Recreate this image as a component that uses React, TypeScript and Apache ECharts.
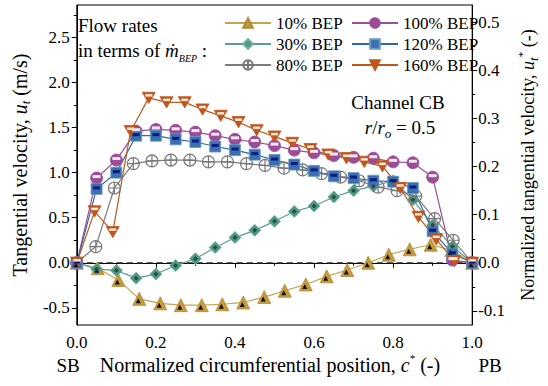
import React, { useEffect, useRef } from "react";
import * as echarts from "echarts";

// ---------- data ----------
const X_10 = [0, 0.053, 0.105, 0.158, 0.211, 0.263, 0.316, 0.368, 0.421, 0.474, 0.526, 0.579, 0.632, 0.684, 0.737, 0.789, 0.842, 0.895, 0.947, 1.0];
const U_10 = [0, -0.06, -0.19, -0.40, -0.45, -0.47, -0.47, -0.46, -0.44, -0.38, -0.31, -0.24, -0.15, -0.08, 0.0, 0.09, 0.15, 0.20, 0.14, 0];

const X_05 = [0, 0.05, 0.1, 0.15, 0.2, 0.25, 0.3, 0.35, 0.4, 0.45, 0.5, 0.55, 0.6, 0.65, 0.7, 0.75, 0.8, 0.85, 0.9, 0.95, 1.0];
const U_30 = [0, -0.07, -0.085, -0.17, -0.125, -0.03, 0.045, 0.17, 0.28, 0.36, 0.46, 0.57, 0.63, 0.73, 0.80, 0.85, 0.91, 0.70, 0.42, 0.18, 0];
const U_100 = [0, 0.94, 1.14, 1.46, 1.48, 1.47, 1.45, 1.41, 1.37, 1.34, 1.30, 1.25, 1.22, 1.19, 1.17, 1.16, 1.12, 1.11, 0.95, 0.03, 0];
const U_120 = [0, 0.82, 1.0, 1.41, 1.41, 1.37, 1.34, 1.29, 1.25, 1.20, 1.14, 1.09, 1.02, 0.96, 0.94, 0.91, 0.90, 0.83, 0.35, 0.10, 0];

const X_80 = [0, 0.048, 0.095, 0.143, 0.190, 0.238, 0.286, 0.333, 0.381, 0.429, 0.476, 0.524, 0.571, 0.619, 0.667, 0.714, 0.762, 0.810, 0.857, 0.905, 0.952, 1.0];
const U_80 = [0, 0.18, 0.83, 1.10, 1.13, 1.14, 1.14, 1.12, 1.12, 1.10, 1.08, 1.05, 1.03, 0.99, 0.95, 0.91, 0.84, 0.80, 0.74, 0.49, 0.25, 0];

const X_160 = [0, 0.045, 0.091, 0.136, 0.182, 0.227, 0.273, 0.318, 0.364, 0.409, 0.455, 0.5, 0.545, 0.591, 0.636, 0.682, 0.727, 0.773, 0.818, 0.864, 0.909, 0.955, 1.0];
const U_160 = [0, 0.57, 0.34, 1.46, 1.83, 1.78, 1.78, 1.70, 1.63, 1.56, 1.47, 1.40, 1.33, 1.26, 1.20, 1.16, 1.12, 1.07, 0.83, 0.51, 0.26, 0.02, 0];

const NAMES_COL1 = ["10% BEP", "30% BEP", "80% BEP"];
const NAMES_COL2 = ["100% BEP", "120% BEP", "160% BEP"];

const Y_LEFT_LABELS = [-0.5, 0, 0.5, 1.0, 1.5, 2.0, 2.5];
const Y_LEFT_MINOR = [-0.25, 0.25, 0.75, 1.25, 1.75, 2.25, 2.75];
const Y_RIGHT_LABELS = [-0.1, 0, 0.1, 0.2, 0.3, 0.4, 0.5];
const Y_RIGHT_MINOR = [-0.05, 0.05, 0.15, 0.25, 0.35, 0.45];

const U_REF_FACTOR = 0.1875; // u* per (m/s)
const Y_MIN = -0.69;
const Y_MAX = 2.86;

const FONT = "Liberation Serif";

const pair = (xs: number[], ys: number[]) => xs.map((x, i) => [x, ys[i]]);

const TRI_DOWN = "path://M0,0L10,0L5,8.7Z";
const CIRC_PLUS = "path://M10,0A10,10,0,1,1,-10,0A10,10,0,1,1,10,0ZM-10,0L10,0M0,-10L0,10";

export default function App() {
  const ref = useRef<HTMLDivElement>(null);
  useEffect(() => {
    if (!ref.current) return;
    const chart = echarts.init(ref.current, undefined, { renderer: "svg" });

    const baseLine = (name: string, data: number[][], color: string, symbol: string, size: number, itemStyle: any, z = 3, extra: any = {}) => ({
      type: "line",
      name,
      data,
      xAxisIndex: 0,
      yAxisIndex: 0,
      symbol,
      legendIcon: symbol,
      symbolSize: size,
      symbolKeepAspect: true,
      showSymbol: true,
      lineStyle: { color, width: 1.2 },
      itemStyle,
      z,
      ...extra,
    });

    const overlay = (name: string, data: number[][], symbol: string, size: any, color: string, offset: number[] = [0, 0], z = 4) => ({
      type: "line",
      name,
      data,
      symbol,
      symbolSize: size,
      symbolOffset: offset,
      showSymbol: true,
      lineStyle: { width: 0, opacity: 0 },
      itemStyle: { color, borderWidth: 0 },
      silent: true,
      z,
    });

    const d10 = pair(X_10, U_10);
    const d30 = pair(X_05, U_30);
    const d80 = pair(X_80, U_80);
    const d100 = pair(X_05, U_100);
    const d120 = pair(X_05, U_120);
    const d160 = pair(X_160, U_160);

    const labelStyle = { fontFamily: FONT, fontSize: 17, color: "#000" };
    const legendCommon = {
      orient: "vertical",
      top: 9,
      itemWidth: 46,
      itemHeight: 12,
      itemGap: 3,
      textStyle: { fontFamily: FONT, fontSize: 17, color: "#000", lineHeight: 18 },
      selectedMode: false,
    };

    chart.setOption({
      animation: false,
      backgroundColor: "#fff",
      textStyle: { fontFamily: FONT },
      grid: { left: 68, right: 57, top: 5, bottom: 61, show: true, borderColor: "#000", borderWidth: 1, backgroundColor: "transparent" },
      legend: [
        { ...legendCommon, left: 219, data: NAMES_COL1 },
        { ...legendCommon, left: 346, data: NAMES_COL2 },
      ],
      xAxis: [
        {
          type: "value",
          min: 0,
          max: 1,
          interval: 0.2,
          axisLine: { show: true, lineStyle: { color: "#000", width: 1 } },
          axisTick: { show: true, inside: false, length: 5, lineStyle: { color: "#000" } },
          minorTick: { show: true, splitNumber: 2, length: 3, lineStyle: { color: "#000" } },
          splitLine: { show: false },
          axisLabel: { ...labelStyle, margin: 9, showMinLabel: true, showMaxLabel: true, formatter: (v: number) => v.toFixed(1) },
        },
      ],
      yAxis: [
        {
          type: "value",
          position: "left",
          min: Y_MIN,
          max: Y_MAX,
          axisLine: { show: true, lineStyle: { color: "#000", width: 1 } },
          axisTick: { show: true, length: 5, customValues: Y_LEFT_LABELS, lineStyle: { color: "#000" } },
          splitLine: { show: false },
          axisLabel: { ...labelStyle, margin: 7, customValues: Y_LEFT_LABELS, formatter: (v: number) => v.toFixed(1) },
          name: "Tangential velocity, {i|u}{s|t} (m/s)",
          nameLocation: "middle",
          nameRotate: 90,
          nameGap: 40,
          nameTextStyle: {
            fontFamily: FONT, fontSize: 20, color: "#000", lineHeight: 24,
            rich: {
              i: { fontFamily: FONT, fontSize: 20, fontStyle: "italic", lineHeight: 24 },
              s: { fontFamily: FONT, fontSize: 13, fontStyle: "italic", lineHeight: 13, verticalAlign: "bottom" },
            },
          },
        },
        {
          type: "value",
          position: "right",
          min: Y_MIN * U_REF_FACTOR,
          max: Y_MAX * U_REF_FACTOR,
          axisLine: { show: true, lineStyle: { color: "#000", width: 1 } },
          axisTick: { show: true, length: 5, customValues: Y_RIGHT_LABELS, lineStyle: { color: "#000" } },
          splitLine: { show: false },
          axisLabel: { ...labelStyle, margin: 6, customValues: Y_RIGHT_LABELS, formatter: (v: number) => v.toFixed(1) },
          name: "Normalized tangential velocity, {i|u}{s|t}{p|*} (-)",
          nameLocation: "middle",
          nameRotate: 90,
          nameGap: 37,
          nameTextStyle: {
            fontFamily: FONT, fontSize: 18, color: "#000", lineHeight: 24,
            rich: {
              i: { fontFamily: FONT, fontSize: 18, fontStyle: "italic", lineHeight: 24 },
              s: { fontFamily: FONT, fontSize: 13, fontStyle: "italic", lineHeight: 13, verticalAlign: "bottom" },
              p: { fontFamily: FONT, fontSize: 11, lineHeight: 11, verticalAlign: "top" },
            },
          },
        },
        {
          type: "value",
          position: "left",
          min: Y_MIN,
          max: Y_MAX,
          axisLine: { show: false },
          axisTick: { show: true, length: 3, customValues: Y_LEFT_MINOR, lineStyle: { color: "#000" } },
          splitLine: { show: false },
          axisLabel: { show: false },
        },
        {
          type: "value",
          position: "right",
          min: Y_MIN * U_REF_FACTOR,
          max: Y_MAX * U_REF_FACTOR,
          axisLine: { show: false },
          axisTick: { show: true, length: 3, customValues: Y_RIGHT_MINOR, lineStyle: { color: "#000" } },
          splitLine: { show: false },
          axisLabel: { show: false },
        },
      ],
      series: [
        baseLine("10% BEP", d10, "#C9A24C", "triangle", 13, { color: "#C49A3C", borderColor: "#B08A34", borderWidth: 0.8 }, 3, {
          markLine: {
            silent: true,
            symbol: ["none", "none"],
            label: { show: false },
            lineStyle: { color: "#222", width: 1.5, type: [6, 4] },
            data: [{ yAxis: 0 }],
            z: 1,
          },
        }),
        overlay("_10in", d10, "triangle", 5, "#111", [-1, 2]),
        baseLine("30% BEP", d30, "#5C9E8E", "diamond", 12, { color: "#4E9985", borderColor: "#6CB09C", borderWidth: 0.8 }),
        overlay("_30in", d30, "diamond", 5, "#2A4E45"),
        baseLine("80% BEP", d80, "#7C7C7C", CIRC_PLUS, 12, { color: "rgba(255,255,255,0)", borderColor: "#777", borderWidth: 1.2 }),
        baseLine("100% BEP", d100, "#9B4F98", "circle", 12, { color: "#9A4C97", borderColor: "#9A4C97", borderWidth: 0.8 }),
        overlay("_100in", d100, "rect", [8, 3], "#F2E6F2", [0, -1.5]),
        baseLine("120% BEP", d120, "#2F68A8", "rect", 11, { color: "#3A70AD", borderColor: "#6B96C8", borderWidth: 0.8 }),
        overlay("_120in", d120, "rect", [7, 3], "#0A1C84", [0, -1]),
        baseLine("160% BEP", d160, "#C0571C", TRI_DOWN, 13, { color: "#C0561B", borderColor: "#C0561B", borderWidth: 0.8 }),
        overlay("_160in", d160, "rect", [7, 2.5], "#F8E8DD", [0, -2.5]),
      ],
      graphic: [
        { type: "text", x: 78, y: 25, style: { text: "Flow rates", fontFamily: FONT, fontSize: 19, fill: "#000", align: "left", verticalAlign: "middle" } },
        {
          type: "text", x: 78, y: 50,
          style: {
            text: "in terms of {i|ṁ}{s|BEP} :",
            fontFamily: FONT, fontSize: 19, fill: "#000", align: "left", verticalAlign: "middle", lineHeight: 26,
            rich: {
              i: { fontFamily: FONT, fontSize: 19, fontStyle: "italic", lineHeight: 26 },
              s: { fontFamily: FONT, fontSize: 10, fontStyle: "italic", lineHeight: 10, verticalAlign: "bottom" },
            },
          },
        },
        { type: "text", x: 398, y: 102, style: { text: "Channel CB", fontFamily: FONT, fontSize: 19, fill: "#000", align: "center", verticalAlign: "middle" } },
        {
          type: "text", x: 400, y: 127,
          style: {
            text: "{i|r}/{i|r}{s|o} = 0.5",
            fontFamily: FONT, fontSize: 19, fill: "#000", align: "center", verticalAlign: "middle", lineHeight: 26,
            rich: {
              i: { fontFamily: FONT, fontSize: 19, fontStyle: "italic", lineHeight: 26 },
              s: { fontFamily: FONT, fontSize: 13, fontStyle: "italic", lineHeight: 13, verticalAlign: "bottom" },
            },
          },
        },
        { type: "text", x: 68, y: 365, style: { text: "SB", fontFamily: FONT, fontSize: 19, fill: "#000", align: "center", verticalAlign: "middle" } },
        { type: "text", x: 490, y: 365, style: { text: "PB", fontFamily: FONT, fontSize: 19, fill: "#000", align: "center", verticalAlign: "middle" } },
        {
          type: "text", x: 270, y: 365,
          style: {
            text: "Normalized circumferential position, {i|c}{p|*} (-)",
            fontFamily: FONT, fontSize: 20, fill: "#000", align: "center", verticalAlign: "middle", lineHeight: 26,
            rich: {
              i: { fontFamily: FONT, fontSize: 20, fontStyle: "italic", lineHeight: 26 },
              p: { fontFamily: FONT, fontSize: 11, lineHeight: 11, verticalAlign: "top" },
            },
          },
        },
      ],
    });

    return () => chart.dispose();
  }, []);

  return <div ref={ref} style={{ width: 548, height: 386, position: "absolute", left: 0, top: 0 }} />;
}
